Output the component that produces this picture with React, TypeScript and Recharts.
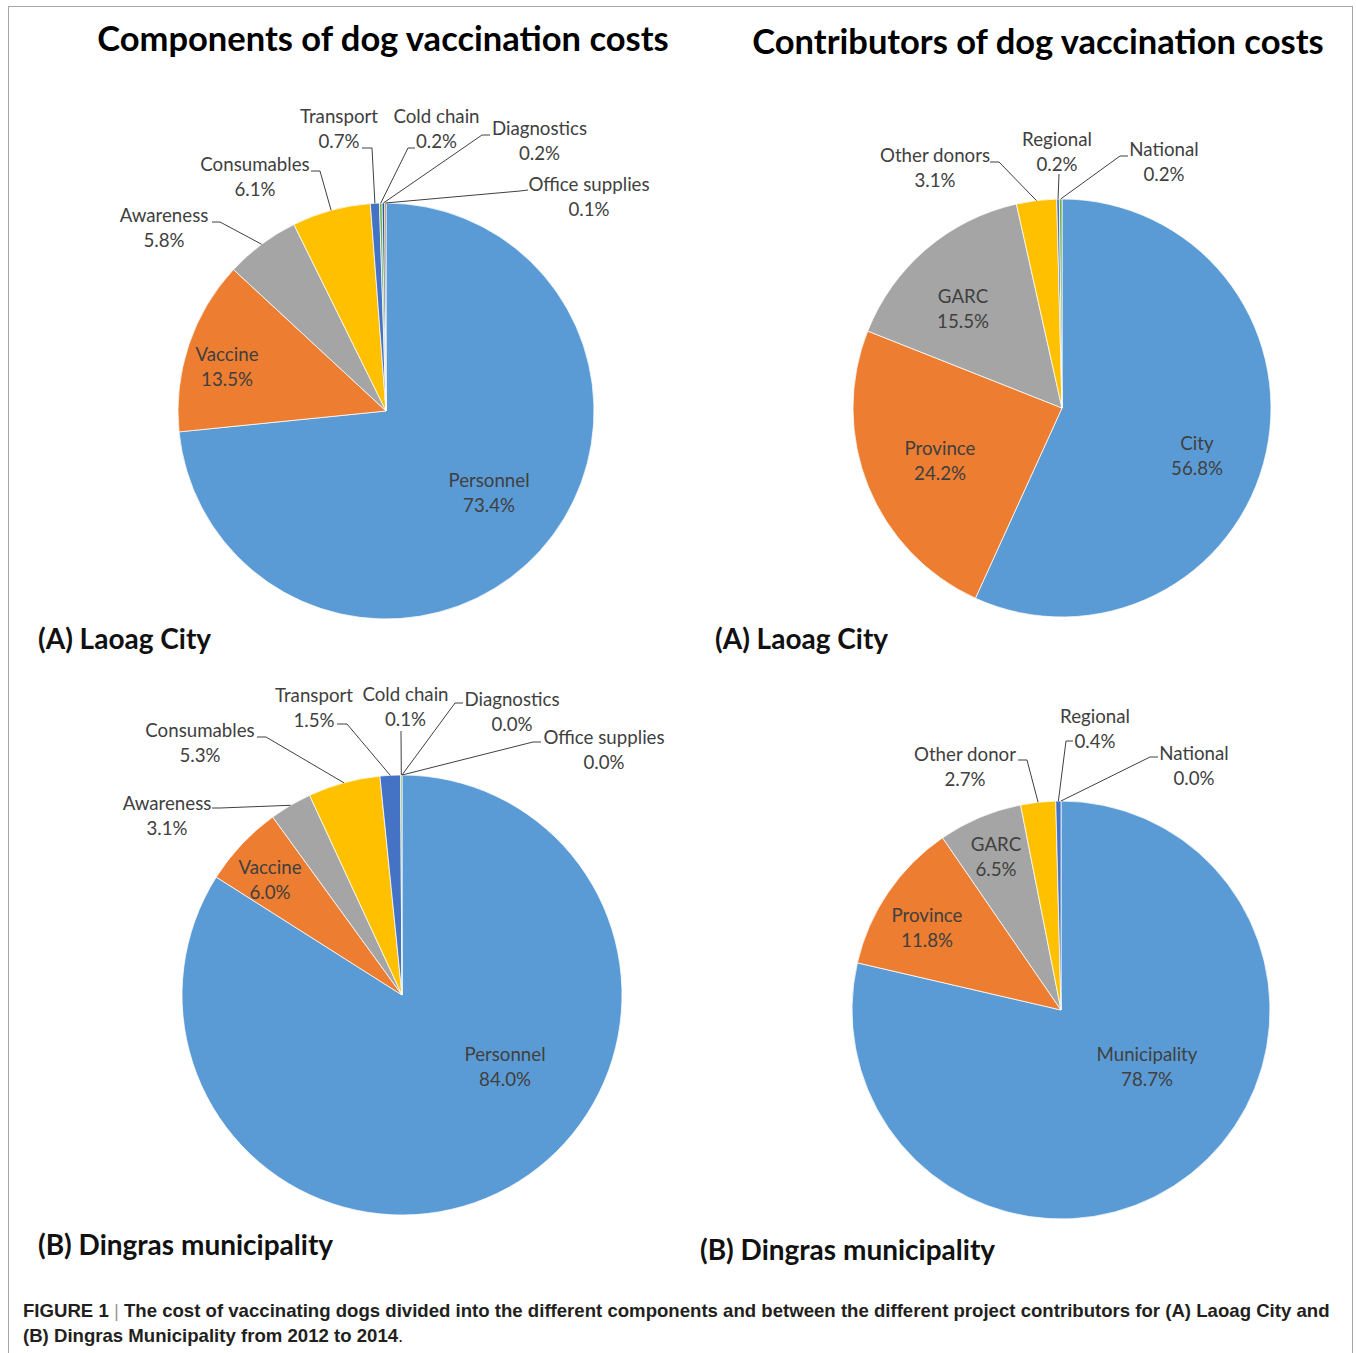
import { PieChart, Pie, Cell } from "recharts"

// --- data (percent of total cost) ---
const componentNames = [
  "Personnel",
  "Vaccine",
  "Awareness",
  "Consumables",
  "Transport",
  "Cold chain",
  "Diagnostics",
  "Office supplies",
]
const laoagComponentShares = [73.4, 13.5, 5.8, 6.1, 0.7, 0.2, 0.2, 0.1]
const dingrasComponentShares = [84.0, 6.0, 3.1, 5.3, 1.5, 0.1, 0.0, 0.0]

const laoagContributorNames = ["City", "Province", "GARC", "Other donors", "Regional", "National"]
const laoagContributorShares = [56.8, 24.2, 15.5, 3.1, 0.2, 0.2]

const dingrasContributorNames = ["Municipality", "Province", "GARC", "Other donor", "Regional", "National"]
const dingrasContributorShares = [78.7, 11.8, 6.5, 2.7, 0.4, 0.0]

const sliceColors = ["#5b9bd5", "#ed7d31", "#a5a5a5", "#ffc000", "#4472c4", "#70ad47", "#255e91", "#9e480e"]

const toRows = (names: string[], values: number[]) => names.map((name, i) => ({ name, value: values[i] }))

// label placement, offsets from the pie centre: t = text centre, h = leader hook [from, to]
type Place = { t: [number, number]; h?: [number, number, number, number] }

const laoagComponentLabels: Record<string, Place> = {
  Personnel: { t: [103, 81] },
  Vaccine: { t: [-159, -45] },
  Awareness: { t: [-222, -183.5], h: [-174, -189, -166, -189] },
  Consumables: { t: [-131, -234.5], h: [-75, -240, -66, -240] },
  Transport: { t: [-47, -282.5], h: [-24, -263, -14, -263] },
  "Cold chain": { t: [50.5, -282.5], h: [29, -263, 22, -263] },
  Diagnostics: { t: [153.5, -270.5], h: [104, -276, 96, -276] },
  "Office supplies": { t: [203, -215], h: [142, -221, 134, -220] },
}

const laoagContributorLabels: Record<string, Place> = {
  City: { t: [135, 47.5] },
  Province: { t: [-122, 52.5] },
  GARC: { t: [-99, -99.5] },
  "Other donors": { t: [-127, -240.5], h: [-72, -246, -63, -246] },
  Regional: { t: [-5, -256.5], h: [-3, -234, -3, -234] },
  National: { t: [102, -246.5], h: [66, -252, 58, -252] },
}

const dingrasComponentLabels: Record<string, Place> = {
  Personnel: { t: [103, 71.5] },
  Vaccine: { t: [-132, -115.5] },
  Awareness: { t: [-235, -179.5], h: [-190, -187, -182, -187] },
  Consumables: { t: [-202, -252.5], h: [-145, -258, -136, -258] },
  Transport: { t: [-88, -287.5], h: [-65, -271, -55, -271] },
  "Cold chain": { t: [3.5, -289], h: [-1, -264, -1, -264] },
  Diagnostics: { t: [110, -283.5], h: [61, -292, 53, -292] },
  "Office supplies": { t: [202, -245.5], h: [139, -253, 131, -253] },
}

const dingrasContributorLabels: Record<string, Place> = {
  Municipality: { t: [86, 56.5] },
  Province: { t: [-134, -82.5] },
  GARC: { t: [-65, -153.5] },
  "Other donor": { t: [-96, -244], h: [-43, -250, -34, -250] },
  Regional: { t: [34, -281.5], h: [12, -269, 5, -269] },
  National: { t: [133, -245], h: [97, -253, 89, -253] },
}

const RADIAN = Math.PI / 180
const labelFont = "Lato, 'Noto Sans', sans-serif"
const inkColor = "#404040"

function makeLabel(places: Record<string, Place>) {
  return (props: any) => {
    const { cx, cy, midAngle, outerRadius, value } = props
    const name = props.name ?? props.payload?.name
    const place = places[name]
    if (!place) return null
    const tx = cx + place.t[0]
    const ty = cy + place.t[1]
    let leader = null
    if (place.h) {
      const ex = cx + outerRadius * Math.cos(-midAngle * RADIAN)
      const ey = cy + outerRadius * Math.sin(-midAngle * RADIAN)
      const [x1, y1, x2, y2] = place.h
      leader = (
        <polyline
          points={`${cx + x1},${cy + y1} ${cx + x2},${cy + y2} ${ex},${ey}`}
          fill="none"
          stroke={inkColor}
          strokeWidth={1}
        />
      )
    }
    return (
      <g key={`lbl-${name}`}>
        {leader}
        <text
          x={tx}
          y={ty - 12.5}
          textAnchor="middle"
          dominantBaseline="central"
          fontFamily={labelFont}
          fontSize={18.7}
          fill={inkColor}
        >
          {name}
        </text>
        <text
          x={tx}
          y={ty + 12.5}
          textAnchor="middle"
          dominantBaseline="central"
          fontFamily={labelFont}
          fontSize={18.7}
          fill={inkColor}
        >
          {`${Number(value).toFixed(1)}%`}
        </text>
      </g>
    )
  }
}

const pies = [
  { id: "laoag-comp", data: toRows(componentNames, laoagComponentShares), cx: 386, cy: 411, r: 208, labels: laoagComponentLabels },
  { id: "laoag-contrib", data: toRows(laoagContributorNames, laoagContributorShares), cx: 1062, cy: 408, r: 209, labels: laoagContributorLabels },
  { id: "dingras-comp", data: toRows(componentNames, dingrasComponentShares), cx: 402, cy: 995, r: 220, labels: dingrasComponentLabels },
  { id: "dingras-contrib", data: toRows(dingrasContributorNames, dingrasContributorShares), cx: 1061, cy: 1010, r: 209, labels: dingrasContributorLabels },
]

const headingFont = "Lato, 'Noto Sans', sans-serif"
const captionFont = "'Liberation Sans', Arial, sans-serif"

export default function App() {
  return (
    <div style={{ position: "absolute", left: 0, top: 0, width: 1356, height: 1353, background: "#fff", overflow: "hidden" }}>
      <svg width={1356} height={1353} style={{ position: "absolute", left: 0, top: 0 }}>
        <rect x={8.5} y={6.5} width={1344} height={1400} fill="none" stroke="#a6a6a6" strokeWidth={1} />
        <text x={383} y={37} textAnchor="middle" dominantBaseline="central" fontFamily={headingFont} fontWeight={700} fontSize={34.5} fill="#000">
          Components of dog vaccination costs
        </text>
        <text x={1038} y={40} textAnchor="middle" dominantBaseline="central" fontFamily={headingFont} fontWeight={700} fontSize={34.5} fill="#000">
          Contributors of dog vaccination costs
        </text>
        <text x={38} y={638} dominantBaseline="central" fontFamily={headingFont} fontWeight={700} fontSize={28} fill="#111">
          (A) Laoag City
        </text>
        <text x={715} y={638} dominantBaseline="central" fontFamily={headingFont} fontWeight={700} fontSize={28} fill="#111">
          (A) Laoag City
        </text>
        <text x={38} y={1244} dominantBaseline="central" fontFamily={headingFont} fontWeight={700} fontSize={28} fill="#111">
          (B) Dingras municipality
        </text>
        <text x={700} y={1249} dominantBaseline="central" fontFamily={headingFont} fontWeight={700} fontSize={28} fill="#111">
          (B) Dingras municipality
        </text>
        <text x={23} y={1310} dominantBaseline="central" fontFamily={captionFont} fontWeight={700} fontSize={18.6} fill="#231f20">
          FIGURE 1 <tspan fontWeight={400} fill="#9a9a9a">|</tspan> The cost of vaccinating dogs divided into the different components and between the different project contributors for (A) Laoag City and
        </text>
        <text x={23} y={1335} dominantBaseline="central" fontFamily={captionFont} fontWeight={700} fontSize={18.6} fill="#231f20">
          (B) Dingras Municipality from 2012 to 2014<tspan fontWeight={400}>.</tspan>
        </text>
      </svg>
      <div style={{ position: "absolute", left: 0, top: 0 }}>
        <PieChart width={1356} height={1353} margin={{ top: 0, right: 0, bottom: 0, left: 0 }}>
          {pies.map((p) => (
            <Pie
              key={p.id}
              data={p.data}
              dataKey="value"
              nameKey="name"
              cx={p.cx}
              cy={p.cy}
              outerRadius={p.r}
              startAngle={90}
              endAngle={-270}
              stroke="#ffffff"
              strokeWidth={0.75}
              label={makeLabel(p.labels)}
              labelLine={false}
              isAnimationActive={false}
            >
              {p.data.map((entry, i) => (
                <Cell key={`${p.id}-${entry.name}`} fill={sliceColors[i % sliceColors.length]} />
              ))}
            </Pie>
          ))}
        </PieChart>
      </div>
    </div>
  )
}
